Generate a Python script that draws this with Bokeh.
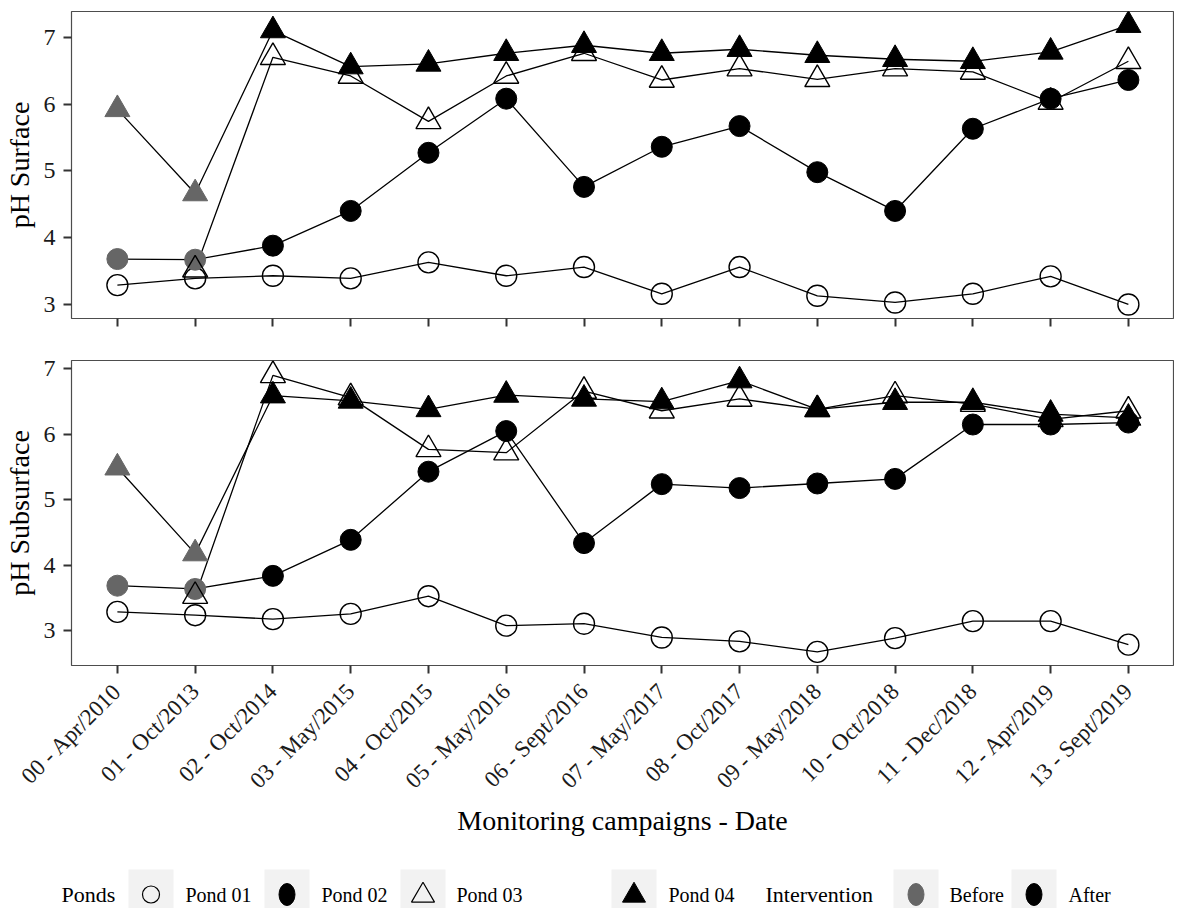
import math
from bokeh.plotting import figure
from bokeh.layouts import column, row
from bokeh.models import Range1d, FixedTicker, ColumnDataSource
from bokeh.embed import file_html
from bokeh.resources import INLINE
from bokeh.core.properties import value

nan = float("nan")

campaigns = ["00 - Apr/2010", "01 - Oct/2013", "02 - Oct/2014", "03 - May/2015",
             "04 - Oct/2015", "05 - May/2016", "06 - Sept/2016", "07 - May/2017",
             "08 - Oct/2017", "09 - May/2018", "10 - Oct/2018", "11 - Dec/2018",
             "12 - Apr/2019", "13 - Sept/2019"]
ponds = ["Pond 01", "Pond 02", "Pond 03", "Pond 04"]
interventions = ["Before", "After"]

surface_pond01 = [3.29, 3.39, 3.43, 3.39, 3.63, 3.43, 3.56, 3.16, 3.56, 3.13, 3.03, 3.16, 3.42, 3.00]
surface_pond02 = [3.68, 3.67, 3.88, 4.40, 5.27, 6.08, 4.76, 5.36, 5.67, 4.98, 4.40, 5.63, 6.08, 6.36]
surface_pond03 = [nan, 3.52, 6.70, 6.42, 5.74, 6.42, 6.76, 6.36, 6.53, 6.37, 6.53, 6.48, 6.03, 6.64]
surface_pond04 = [5.92, 4.66, 7.10, 6.56, 6.60, 6.76, 6.88, 6.76, 6.82, 6.73, 6.67, 6.64, 6.78, 7.18]

subsurface_pond01 = [3.29, 3.24, 3.18, 3.26, 3.53, 3.08, 3.11, 2.90, 2.84, 2.68, 2.89, 3.15, 3.15, 2.79]
subsurface_pond02 = [3.69, 3.64, 3.84, 4.39, 5.43, 6.05, 4.34, 5.24, 5.18, 5.25, 5.32, 6.15, 6.15, 6.18]
subsurface_pond03 = [nan, 3.53, 6.90, 6.56, 5.77, 5.72, 6.66, 6.36, 6.54, 6.38, 6.59, 6.46, 6.23, 6.36]
subsurface_pond04 = [5.49, 4.18, 6.59, 6.51, 6.38, 6.60, 6.54, 6.50, 6.82, 6.38, 6.49, 6.49, 6.31, 6.25]

status_pond01 = ["After", "After", "After", "After", "After", "After", "After",
                 "After", "After", "After", "After", "After", "After", "After"]
status_pond02 = ["Before", "Before", "After", "After", "After", "After", "After",
                 "After", "After", "After", "After", "After", "After", "After"]
status_pond03 = ["After", "After", "After", "After", "After", "After", "After",
                 "After", "After", "After", "After", "After", "After", "After"]
status_pond04 = ["Before", "Before", "After", "After", "After", "After", "After",
                 "After", "After", "After", "After", "After", "After", "After"]

y_ticks = [3, 4, 5, 6, 7]

# ---- styles ----
FONT = "Liberation Serif"
status_color = {"Before": "#666666", "After": "#000000"}
pond_style = {
    "Pond 01": dict(marker="circle", filled=False, size=21),
    "Pond 02": dict(marker="circle", filled=True, size=21),
    "Pond 03": dict(marker="triangle", filled=False, size=25),
    "Pond 04": dict(marker="triangle", filled=True, size=25),
}

xs = list(range(len(campaigns)))
W = 1174
BL = 71


def make_panel(ylabel, series, yrange, height, b_top, b_bottom, show_labels):
    p = figure(width=W, height=height, title=None,
               x_range=Range1d(-0.59, len(campaigns) - 1 + 0.58),
               y_range=Range1d(*yrange),
               output_backend="svg", toolbar_location=None,
               min_border_left=BL, min_border_right=1,
               min_border_top=b_top, min_border_bottom=b_bottom)
    p.grid.visible = False
    p.outline_line_color = "#4d4d4d"
    p.outline_line_width = 1.2
    p.background_fill_color = "white"

    p.yaxis.ticker = FixedTicker(ticks=y_ticks)
    p.xaxis.ticker = FixedTicker(ticks=xs)
    for ax in (p.xaxis[0], p.yaxis[0]):
        ax.axis_line_color = None
        ax.major_tick_line_color = "#333333"
        ax.major_tick_line_width = 2
        ax.major_tick_out = 8
        ax.major_tick_in = 0
        ax.minor_tick_line_color = None
        ax.major_label_text_font = FONT
        ax.major_label_text_font_size = "24px"
        ax.major_label_text_color = "#1a1a1a"
        ax.axis_label_text_font = FONT
        ax.axis_label_text_font_size = "28px"
        ax.axis_label_text_font_style = "normal"
        ax.axis_label_text_color = "#000000"
    p.yaxis.axis_label = ylabel
    p.yaxis.major_label_standoff = 8
    p.yaxis.axis_label_standoff = 6
    if show_labels:
        p.xaxis.major_label_overrides = {i: c for i, c in enumerate(campaigns)}
        p.xaxis.major_label_text_font_size = "23px"
        p.xaxis.major_label_orientation = math.pi / 4
        p.xaxis.major_label_standoff = 14
        p.xaxis.axis_label = "Monitoring campaigns - Date"
        p.xaxis.axis_label_standoff = 0
    else:
        # ticks only, no tick labels on the upper panel
        p.xaxis.major_label_overrides = {i: "" for i in xs}
        p.xaxis.major_label_text_font_size = "1px"
        p.xaxis.major_label_standoff = 0

    sources = []
    for pond, ys, st in series:
        src = ColumnDataSource(dict(x=xs, y=ys, status=st,
                                    color=[status_color[s] for s in st]))
        sources.append((pond, src))
        p.line("x", "y", source=src, line_color="black", line_width=1.3)
    for pond, src in sources:
        s = pond_style[pond]
        if s["filled"]:
            p.scatter("x", "y", source=src, marker=s["marker"], size=s["size"],
                      fill_color="color", line_color="color", line_width=1)
        else:
            p.scatter("x", "y", source=src, marker=s["marker"], size=s["size"],
                      fill_color=None, line_color="color", line_width=1.4)
    return p


top = make_panel("pH Surface",
                 [("Pond 01", surface_pond01, status_pond01),
                  ("Pond 02", surface_pond02, status_pond02),
                  ("Pond 03", surface_pond03, status_pond03),
                  ("Pond 04", surface_pond04, status_pond04)],
                 (2.79, 7.385), 340, 11, 22, False)

bottom = make_panel("pH Subsurface",
                    [("Pond 01", subsurface_pond01, status_pond01),
                     ("Pond 02", subsurface_pond02, status_pond02),
                     ("Pond 03", subsurface_pond03, status_pond03),
                     ("Pond 04", subsurface_pond04, status_pond04)],
                    (2.472, 7.127), 505, 20, 180, True)

# ---- legend (drawn in its own pixel-space figure) ----
LEG_TOP, LEG_BOTTOM = 845, 908
leg = figure(width=W, height=LEG_BOTTOM - LEG_TOP, x_range=Range1d(0, W),
             y_range=Range1d(LEG_BOTTOM, LEG_TOP),
             output_backend="svg", toolbar_location=None, min_border=0,
             min_border_left=0, min_border_right=0, min_border_top=0, min_border_bottom=0,
             x_axis_location=None, y_axis_location=None, outline_line_color=None)
leg.grid.visible = False

key_y = 894
key_left = [128, 264, 400, 611, 893, 1011]
key_w = 45
label_x = [185, 321, 456, 668, 949, 1068]
key_labels = ponds + interventions
leg.quad(left=key_left, right=[k + key_w for k in key_left],
         top=[869] * len(key_left), bottom=[935] * len(key_left),
         fill_color="#f2f2f2", line_color=None)
cx = [k + key_w / 2 for k in key_left]
# pond keys
leg.scatter([cx[0]], [key_y], marker="circle", size=17, fill_color=None, line_color="black", line_width=1.2)
leg.ellipse([cx[1]], [key_y], width=16, height=22, width_units="screen", height_units="screen",
            fill_color="black", line_color="black")
leg.scatter([cx[2]], [key_y + 1], marker="triangle", size=23, fill_color=None, line_color="black", line_width=1.2)
leg.scatter([cx[3]], [key_y + 1], marker="triangle", size=23, fill_color="black", line_color="black")
# intervention keys
leg.ellipse([cx[4]], [key_y], width=16, height=22, width_units="screen", height_units="screen",
            fill_color=status_color["Before"], line_color=status_color["Before"])
leg.ellipse([cx[5]], [key_y], width=16, height=22, width_units="screen", height_units="screen",
            fill_color=status_color["After"], line_color=status_color["After"])

leg.text(x=label_x, y=[key_y] * len(label_x), text=key_labels,
         text_font=value(FONT), text_font_size="20px", text_baseline="middle",
         text_align="left", text_color="black")
leg.text(x=[61, 765], y=[key_y, key_y], text=["Ponds", "Intervention"],
         text_font=value(FONT), text_font_size="22px", text_baseline="middle",
         text_align="left", text_color="black")

layout = column(column(top, bottom), row(leg))
open("out.html", "w").write(file_html(layout, INLINE))
